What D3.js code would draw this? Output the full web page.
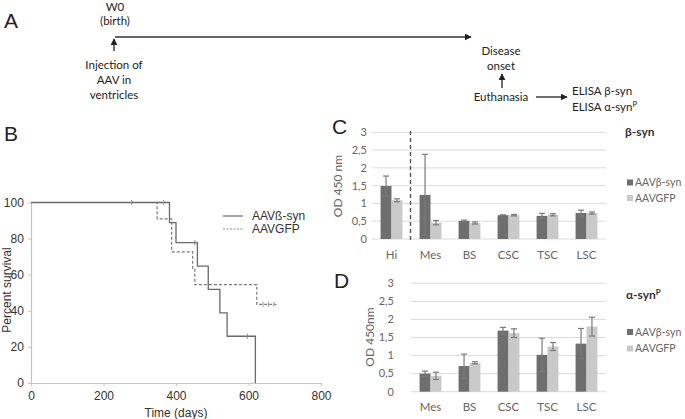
<!DOCTYPE html>
<html><head><meta charset="utf-8">
<script src="https://cdn.jsdelivr.net/npm/d3@7"></script>
<style>
html,body{margin:0;padding:0;background:#fff;}
svg{display:block;}
</style></head>
<body>
<svg id="chart" width="685" height="419"></svg>
<script>
// ---------- DATA ----------
// Panel B: Kaplan-Meier survival
const betaTimes = [0, 382, 400, 459, 489, 521, 541, 619];
const betaSurv  = [100, 88.9, 77.8, 64.8, 51.9, 38.9, 25.9, 0];
const betaCensorT = [278, 452, 597];
const betaCensorS = [100, 77.8, 25.9];
const gfpTimes = [0, 348, 388, 446, 452, 623, 677];
const gfpSurv  = [100, 90.9, 72.7, 63.6, 54.5, 43.6, 43.6];
const gfpCensorT = [366, 640, 655, 670];
const gfpCensorS = [100, 43.6, 43.6, 43.6];
const survXTicks = [0, 200, 400, 600, 800];
const survYTicks = [0, 20, 40, 60, 80, 100];
const survSeries = ["AAVß-syn", "AAVGFP"];

// Panel C: beta-syn ELISA
const catsC = ["Hi", "Mes", "BS", "CSC", "TSC", "LSC"];
const cBeta    = [1.49, 1.24, 0.51, 0.67, 0.65, 0.73];
const cBetaErr = [0.28, 1.14, 0.02, 0.01, 0.07, 0.08];
const cGfp     = [1.09, 0.46, 0.45, 0.67, 0.68, 0.73];
const cGfpErr  = [0.04, 0.06, 0.03, 0.02, 0.03, 0.03];

// Panel D: alpha-syn P ELISA
const catsD = ["Mes", "BS", "CSC", "TSC", "LSC"];
const dBeta    = [0.50, 0.71, 1.69, 1.02, 1.33];
const dBetaErr = [0.07, 0.33, 0.09, 0.46, 0.42];
const dGfp     = [0.44, 0.80, 1.62, 1.25, 1.80];
const dGfpErr  = [0.10, 0.03, 0.12, 0.11, 0.26];

const odTicks = [0, 0.5, 1, 1.5, 2, 2.5, 3];
const barSeries = ["AAVβ-syn", "AAVGFP"];

// ---------- DRAW ----------
const svg = d3.select("#chart");
const calibri = "Lato, 'Open Sans', sans-serif";
const arial = "'Liberation Sans', Arial, sans-serif";

// ===== Panel A =====
const A = svg.append("g");
A.append("text").attr("x", 4).attr("y", 28).attr("font-family", arial).attr("font-size", 21).attr("fill", "#222").text("A");
svg.append("defs").append("marker").attr("id", "ah").attr("viewBox", "0 0 10 10").attr("refX", 9).attr("refY", 5)
  .attr("markerWidth", 7).attr("markerHeight", 7).attr("markerUnits", "userSpaceOnUse").attr("orient", "auto")
  .append("path").attr("d", "M0,0L10,5L0,10z").attr("fill", "#222");
const aText = (x, y, t, anchor) => A.append("text").attr("x", x).attr("y", y).attr("text-anchor", anchor || "middle")
  .attr("font-family", calibri).attr("font-size", 11.5).attr("fill", "#222").text(t);
aText(115, 11, "W0");
aText(115, 25, "(birth)");
A.append("line").attr("x1", 115).attr("y1", 37).attr("x2", 471).attr("y2", 37).attr("stroke", "#333").attr("stroke-width", 1.6).attr("marker-end", "url(#ah)");
A.append("line").attr("x1", 114).attr("y1", 51).attr("x2", 114).attr("y2", 39).attr("stroke", "#333").attr("stroke-width", 1.4).attr("marker-end", "url(#ah)");
aText(114, 69, "Injection of");
aText(114, 84, "AAV in");
aText(114, 99, "ventricles");
aText(501, 55, "Disease");
aText(501, 70, "onset");
A.append("line").attr("x1", 502).attr("y1", 88).attr("x2", 502).attr("y2", 74).attr("stroke", "#333").attr("stroke-width", 1.4).attr("marker-end", "url(#ah)");
aText(501, 101, "Euthanasia");
A.append("line").attr("x1", 536).attr("y1", 97).attr("x2", 567).attr("y2", 97).attr("stroke", "#333").attr("stroke-width", 1.4).attr("marker-end", "url(#ah)");
aText(572, 95, "ELISA β-syn", "start");
const ea = aText(572, 111, "ELISA α-syn", "start");
ea.append("tspan").attr("font-size", 7.5).attr("dy", -4).text("P");

// ===== Panel B =====
const B = svg.append("g");
B.append("text").attr("x", 4).attr("y", 141).attr("font-family", arial).attr("font-size", 21).attr("fill", "#222").text("B");
const xS = d3.scaleLinear().domain([0, 800]).range([31, 321]);
const yS = d3.scaleLinear().domain([0, 100]).range([383, 202.5]);
const xAx = B.append("g").attr("transform", "translate(0,383)").call(d3.axisBottom(xS).tickValues(survXTicks).tickSize(3).tickSizeOuter(0));
const yAx = B.append("g").attr("transform", "translate(31,0)").call(d3.axisLeft(yS).tickValues(survYTicks).tickSize(3).tickSizeOuter(0));
[xAx, yAx].forEach(g => {
  g.select(".domain").attr("stroke", "#c4c4c4").attr("stroke-width", 1.2);
  g.selectAll(".tick line").attr("stroke", "#c4c4c4");
  g.selectAll("text").attr("font-family", arial).attr("font-size", 12).attr("fill", "#333");
});
xAx.selectAll("text").attr("dy", "0.9em");
yAx.selectAll("text").attr("dx", "-0.1em");
B.append("text").attr("x", 176).attr("y", 417).attr("text-anchor", "middle").attr("font-family", arial).attr("font-size", 12).attr("fill", "#333").text("Time (days)");
B.append("text").attr("transform", "translate(11,290) rotate(-90)").attr("text-anchor", "middle").attr("font-family", arial).attr("font-size", 12).attr("fill", "#333").text("Percent survival");

const step = d3.line().x(d => xS(d[0])).y(d => yS(d[1])).curve(d3.curveStepAfter);
const betaPts = betaTimes.map((t, i) => [t, betaSurv[i]]);
const gfpPts = gfpTimes.map((t, i) => [t, gfpSurv[i]]);
B.append("path").attr("d", step(gfpPts)).attr("fill", "none").attr("stroke", "#777").attr("stroke-width", 1.2).attr("stroke-dasharray", "3,2");
B.append("path").attr("d", step(betaPts)).attr("fill", "none").attr("stroke", "#6a6a6a").attr("stroke-width", 1.3);
betaCensorT.forEach((t, i) => B.append("line").attr("x1", xS(t)).attr("x2", xS(t)).attr("y1", yS(betaCensorS[i]) - 2.5).attr("y2", yS(betaCensorS[i]) + 2.5).attr("stroke", "#888"));
gfpCensorT.forEach((t, i) => B.append("line").attr("x1", xS(t)).attr("x2", xS(t)).attr("y1", yS(gfpCensorS[i]) - 2.5).attr("y2", yS(gfpCensorS[i]) + 2.5).attr("stroke", "#999"));
// legend
B.append("line").attr("x1", 223).attr("x2", 243).attr("y1", 216).attr("y2", 216).attr("stroke", "#6a6a6a").attr("stroke-width", 1.2);
B.append("line").attr("x1", 223).attr("x2", 243).attr("y1", 229).attr("y2", 229).attr("stroke", "#888").attr("stroke-width", 1).attr("stroke-dasharray", "2,1.5");
B.append("text").attr("x", 252).attr("y", 220).attr("font-family", arial).attr("font-size", 12).attr("fill", "#333").text(survSeries[0]);
B.append("text").attr("x", 252).attr("y", 233).attr("font-family", arial).attr("font-size", 12).attr("fill", "#333").text(survSeries[1]);

// ===== Bar panels =====
const darkC = "#6e6e6e", lightC = "#c9c9c9", errC = "#7a7a7a";
function barPanel(cfg) {
  const g = svg.append("g");
  const y = d3.scaleLinear().domain([0, 3]).range([cfg.y0, cfg.y3]);
  const x = d3.scaleBand().domain(cfg.cats).range([cfg.x0, cfg.x1]).paddingInner(0.44).paddingOuter(0.22);
  const xs = d3.scaleBand().domain(barSeries).range([0, x.bandwidth()]);
  g.selectAll(".grid").data(odTicks).join("line")
    .attr("x1", cfg.x0).attr("x2", cfg.x1).attr("y1", d => y(d)).attr("y2", d => y(d))
    .attr("stroke", "#dcdcdc").attr("stroke-width", 1);
  g.selectAll(".yl").data(odTicks).join("text")
    .attr("x", cfg.labX).attr("y", d => y(d)).attr("dy", "0.35em").attr("text-anchor", "end")
    .attr("font-family", calibri).attr("font-size", 11).attr("fill", "#666")
    .text(d => String(d).replace(".", ","));
  const series = [[cfg.beta, cfg.betaErr, darkC], [cfg.gfp, cfg.gfpErr, lightC]];
  series.forEach((s, si) => {
    g.selectAll(".b" + si).data(cfg.cats).join("rect")
      .attr("x", c => x(c) + xs(barSeries[si])).attr("width", xs.bandwidth())
      .attr("y", (c, i) => y(s[0][i])).attr("height", (c, i) => y(0) - y(s[0][i]))
      .attr("fill", s[2]);
  });
  series.forEach((s, si) => {
    cfg.cats.forEach((c, i) => {
      const cx = x(c) + xs(barSeries[si]) + xs.bandwidth() / 2;
      const hi = y(s[0][i] + s[1][i]), lo = y(s[0][i] - s[1][i]);
      g.append("line").attr("x1", cx).attr("x2", cx).attr("y1", hi).attr("y2", lo).attr("stroke", errC).attr("stroke-width", 1.2);
      [hi, lo].forEach(yy => g.append("line").attr("x1", cx - 3).attr("x2", cx + 3).attr("y1", yy).attr("y2", yy).attr("stroke", errC).attr("stroke-width", 1.2));
    });
  });
  g.selectAll(".xl").data(cfg.cats).join("text")
    .attr("x", c => x(c) + x.bandwidth() / 2).attr("y", cfg.catY).attr("text-anchor", "middle")
    .attr("font-family", calibri).attr("font-size", 11.5).attr("fill", "#666").text(c => c);
  barSeries.forEach((s, i) => {
    const ly = cfg.legY[i];
    g.append("rect").attr("x", 627).attr("y", ly - 3).attr("width", 6).attr("height", 6).attr("fill", i ? lightC : darkC);
    g.append("text").attr("x", 635).attr("y", ly).attr("dy", "0.35em").attr("font-family", calibri).attr("font-size", 10.5).attr("fill", "#666").text(s);
  });
  g.append("text").attr("transform", `translate(${cfg.odX},${cfg.odY}) rotate(-90)`).attr("text-anchor", "middle")
    .attr("font-family", calibri).attr("font-size", 12).attr("fill", "#666").text(cfg.odLabel);
  g.append("text").attr("x", cfg.letterX).attr("y", cfg.letterY).attr("font-family", arial).attr("font-size", 21).attr("fill", "#222").text(cfg.letter);
  return {g, x, y};
}

const pc = barPanel({cats: catsC, beta: cBeta, betaErr: cBetaErr, gfp: cGfp, gfpErr: cGfpErr,
  x0: 372, x1: 606, y0: 239, y3: 132.3, labX: 367, catY: 259, legY: [182.5, 198],
  odX: 342, odY: 186, odLabel: "OD 450 nm", letter: "C", letterX: 332, letterY: 134});
pc.g.append("line").attr("x1", pc.x("Mes") - pc.x.step() * 0.22 - 0.5).attr("x2", pc.x("Mes") - pc.x.step() * 0.22 - 0.5)
  .attr("y1", 131).attr("y2", 242).attr("stroke", "#555").attr("stroke-width", 1.4).attr("stroke-dasharray", "4,3");
pc.g.append("text").attr("x", 625).attr("y", 136).attr("font-family", calibri).attr("font-weight", "bold").attr("font-size", 12).attr("fill", "#333").text("β-syn");

const pd = barPanel({cats: catsD, beta: dBeta, betaErr: dBetaErr, gfp: dGfp, gfpErr: dGfpErr,
  x0: 411, x1: 606, y0: 391.7, y3: 283.3, labX: 394, catY: 411, legY: [332, 348.5],
  odX: 374, odY: 337, odLabel: "OD 450nm", letter: "D", letterX: 334, letterY: 288});
const tD = pd.g.append("text").attr("x", 626).attr("y", 299).attr("font-family", calibri).attr("font-weight", "bold").attr("font-size", 12).attr("fill", "#333").text("α-syn");
tD.append("tspan").attr("font-size", 8).attr("dy", -4).text("P");
</script>
</body></html>
